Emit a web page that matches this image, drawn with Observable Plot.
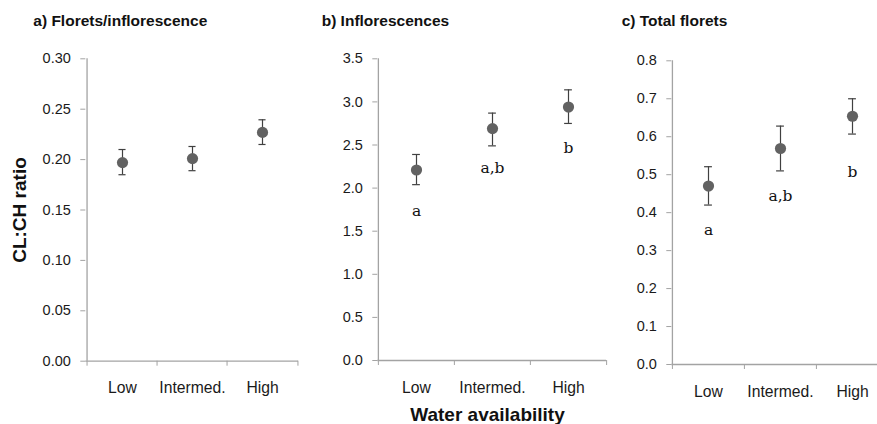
<!DOCTYPE html>
<html>
<head>
<meta charset="utf-8">
<script src="https://cdn.jsdelivr.net/npm/d3@7"></script>
<script src="https://cdn.jsdelivr.net/npm/@observablehq/plot@0.6"></script>
<style>
  html, body { margin: 0; padding: 0; background: #fff; }
  body { width: 877px; height: 424px; overflow: hidden; position: relative; }
  #wrap { position: relative; width: 877px; height: 424px; overflow: hidden; }
  .panel { position: absolute; top: 0; }
  .title { position: absolute; font: bold 15.5px/1 "Liberation Sans", Arial, sans-serif; color: #111; white-space: nowrap; }
  .axtitle { position: absolute; font: bold 19px/1 "Liberation Sans", Arial, sans-serif; color: #111; white-space: nowrap; }
</style>
</head>
<body>
<div id="wrap"></div>
<script>
// ---- data ----
const categories = ["Low", "Intermed.", "High"];
const panelTitles = ["a) Florets/inflorescence", "b) Inflorescences", "c) Total florets"];
const yTitle = "CL:CH ratio";
const xTitle = "Water availability";

const meanA = [0.197, 0.201, 0.227];
const lowA  = [0.185, 0.189, 0.215];
const highA = [0.210, 0.213, 0.2395];

const meanB = [2.21, 2.69, 2.94];
const lowB  = [2.04, 2.49, 2.75];
const highB = [2.39, 2.87, 3.14];

const meanC = [0.470, 0.569, 0.654];
const lowC  = [0.420, 0.510, 0.607];
const highC = [0.521, 0.628, 0.700];

const lettersB = ["a", "a,b", "b"];
const letterPosB = [1.68, 2.17, 2.41];
const lettersC = ["a", "a,b", "b"];
const letterPosC = [0.34, 0.432, 0.493];

const yTicksA = [0, 0.05, 0.10, 0.15, 0.20, 0.25, 0.30];
const yTicksB = [0, 0.5, 1.0, 1.5, 2.0, 2.5, 3.0, 3.5];
const yTicksC = [0, 0.1, 0.2, 0.3, 0.4, 0.5, 0.6, 0.7, 0.8];

// ---- layout ----
const panels = [
  {title: panelTitles[0], mean: meanA, low: lowA, high: highA, letters: null, letterPos: null,
   ticks: yTicksA, fmt: d3.format(".2f"), domain: [0, 0.30],
   left: 0, width: 300, ml: 85.3, mr: 2, mt: 58.3, mb: 63.3, titleX: 33.3},
  {title: panelTitles[1], mean: meanB, low: lowB, high: highB, letters: lettersB, letterPos: letterPosB,
   ticks: yTicksB, fmt: d3.format(".1f"), domain: [0, 3.5],
   left: 290, width: 320, ml: 87.3, mr: 4, mt: 58.3, mb: 64, titleX: 321.7},
  {title: panelTitles[2], mean: meanC, low: lowC, high: highC, letters: lettersC, letterPos: letterPosC,
   ticks: yTicksC, fmt: d3.format(".1f"), domain: [0, 0.8],
   left: 580, width: 320, ml: 91.3, mr: 12.2, mt: 60.3, mb: 60, titleX: 621.7}
];

const wrap = document.getElementById("wrap");
const axisGray = "#a3a3a3";

for (const p of panels) {
  const rows = categories.map((c, i) => ({cat: c, mean: p.mean[i], low: p.low[i], high: p.high[i],
    letter: p.letters ? p.letters[i] : null, lpos: p.letterPos ? p.letterPos[i] : null}));
  const bw = (p.width - p.ml - p.mr) / categories.length;
  const capInset = (bw - 8) / 2;
  const marks = [
    Plot.ruleY([0], {stroke: axisGray, strokeWidth: 1.3}),
    Plot.ruleX([categories[0]], {dx: -bw / 2, stroke: axisGray, strokeWidth: 1.3}),
    Plot.axisY({ticks: p.ticks, tickFormat: p.fmt, tickSize: 5, tickPadding: 10, stroke: axisGray,
      fontSize: 14.5, fill: "#1a1a1a"}),
    Plot.axisX(categories, {tickSize: 5, dx: -bw / 2, tickFormat: () => "", stroke: axisGray, label: null}),
    Plot.axisX([categories[categories.length - 1]], {tickSize: 5, dx: bw / 2, tickFormat: () => "", stroke: axisGray, label: null}),
    Plot.axisX(categories, {tickSize: 0, tickPadding: 21, fontSize: 15.7, fill: "#1a1a1a", label: null}),
    Plot.ruleX(rows, {x: "cat", y1: "low", y2: "high", stroke: "#404040", strokeWidth: 1.2}),
    Plot.tickY(rows, {x: "cat", y: "low", stroke: "#404040", strokeWidth: 1.2, insetLeft: capInset, insetRight: capInset}),
    Plot.tickY(rows, {x: "cat", y: "high", stroke: "#404040", strokeWidth: 1.2, insetLeft: capInset, insetRight: capInset}),
    Plot.dot(rows, {x: "cat", y: "mean", r: 5.6, fill: "#626262", stroke: "none"})
  ];
  if (p.letters) {
    marks.push(Plot.text(rows, {x: "cat", y: "lpos", text: "letter", lineAnchor: "bottom",
      fontFamily: "DejaVu Serif", fontSize: 15.5, fill: "#111"}));
  }
  const chart = Plot.plot({
    width: p.width,
    height: 424,
    marginLeft: p.ml,
    marginRight: p.mr,
    marginTop: p.mt,
    marginBottom: p.mb,
    x: {type: "band", domain: categories, padding: 0, axis: null},
    y: {domain: p.domain, axis: null},
    style: {background: "transparent", overflow: "visible", fontFamily: "Liberation Sans, Arial, sans-serif", fontSize: "14.5px", color: "#1a1a1a"},
    marks
  });
  const div = document.createElement("div");
  div.className = "panel";
  div.style.left = p.left + "px";
  div.style.width = p.width + "px";
  div.appendChild(chart);
  wrap.appendChild(div);

  const t = document.createElement("div");
  t.className = "title";
  t.textContent = p.title;
  t.style.left = p.titleX + "px";
  t.style.top = "13px";
  wrap.appendChild(t);
}

const yt = document.createElement("div");
yt.className = "axtitle";
yt.textContent = yTitle;
yt.style.left = "19px";
yt.style.top = "210px";
yt.style.transform = "translate(-50%, -50%) rotate(-90deg)";
wrap.appendChild(yt);

const xt = document.createElement("div");
xt.className = "axtitle";
xt.textContent = xTitle;
xt.style.left = "487.5px";
xt.style.top = "405px";
xt.style.transform = "translateX(-50%)";
wrap.appendChild(xt);
</script>
</body>
</html>
